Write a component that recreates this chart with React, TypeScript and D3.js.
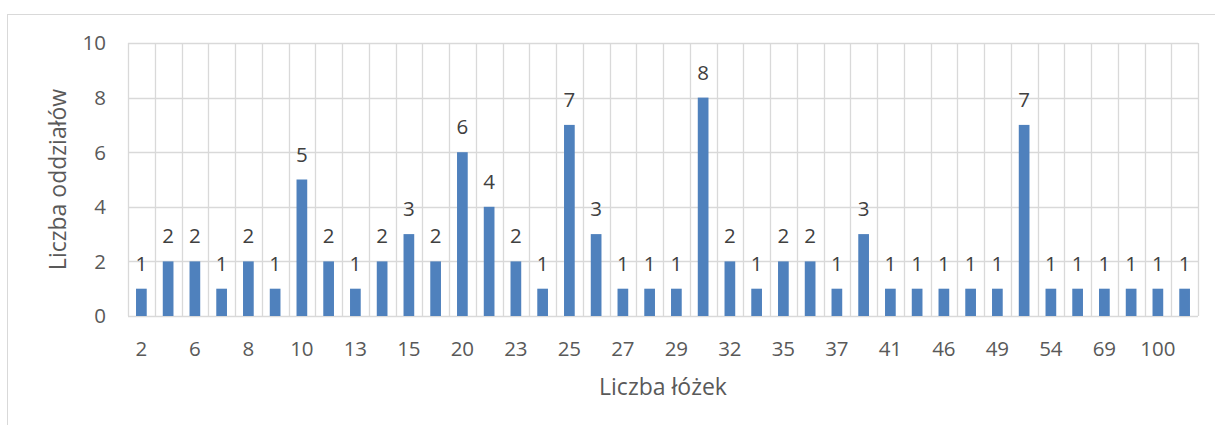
import React from "react";
import * as d3 from "d3";

const categories = [
  "2", "4", "6", "7", "8", "9", "10", "12", "13", "14",
  "15", "18", "20", "22", "23", "24", "25", "26", "27", "28",
  "29", "30", "32", "34", "35", "36", "37", "40", "41", "45",
  "46", "48", "49", "50", "54", "60", "69", "80", "100", "120",
];
const values = [
  1, 2, 2, 1, 2, 1, 5, 2, 1, 2,
  3, 2, 6, 4, 2, 1, 7, 3, 1, 1,
  1, 8, 2, 1, 2, 2, 1, 3, 1, 1,
  1, 1, 1, 7, 1, 1, 1, 1, 1, 1,
];
const yTicks = [0, 2, 4, 6, 8, 10];
const xTitle = "Liczba łóżek";
const yTitle = "Liczba oddziałów";

const W = 1215;
const H = 425;
const left = 128;
const right = 1198;
const top = 43;
const bottom = 316;
const FONT = "'Open Sans', sans-serif";
const TXT = "#595959";
const GRID = "#d9d9d9";
const BAR = "#4f81bd";
const FS = 20.5;
const FT = 23;

export default function App() {
  const x = d3
    .scaleBand<string>()
    .domain(categories)
    .range([left, right])
    .paddingInner(0.6)
    .paddingOuter(0.3);
  const y = d3.scaleLinear().domain([0, 10]).range([bottom, top]);
  const step = x.step();
  const bounds = d3.range(categories.length + 1).map((i) => left + i * step);

  return (
    <svg
      width={W}
      height={H}
      style={{ position: "absolute", left: 0, top: 0, background: "#fff" }}
      fontFamily={FONT}
    >
      <rect x={7.5} y={14.5} width={W + 20} height={H + 20} fill="#fff" stroke={GRID} strokeWidth={1} />
      {yTicks.map((t) => (
        <line key={"h" + t} x1={left} x2={right} y1={Math.round(y(t)) + 0.5} y2={Math.round(y(t)) + 0.5} stroke={GRID} strokeWidth={1.3} />
      ))}
      {bounds.map((b, i) => (
        <line key={"v" + i} x1={Math.round(b) + 0.5} x2={Math.round(b) + 0.5} y1={top} y2={bottom} stroke={GRID} strokeWidth={1.3} />
      ))}
      {categories.map((c, i) => (
        <rect key={"b" + i} x={x(c)} y={y(values[i])} width={x.bandwidth()} height={y(0) - y(values[i])} fill={BAR} />
      ))}
      {categories.map((c, i) => (
        <text key={"l" + i} x={x(c)! + x.bandwidth() / 2} y={y(values[i]) - 18} textAnchor="middle" fontSize={FS} fill="#404040">
          {values[i]}
        </text>
      ))}
      {yTicks.map((t) => (
        <text key={"yt" + t} x={106} y={y(t)} dy="0.36em" textAnchor="end" fontSize={FS} fill={TXT}>
          {t}
        </text>
      ))}
      {categories.map((c, i) =>
        i % 2 === 0 ? (
          <text key={"xt" + i} x={x(c)! + x.bandwidth() / 2} y={356} textAnchor="middle" fontSize={FS} fill={TXT}>
            {c}
          </text>
        ) : null
      )}
      <text x={(left + right) / 2} y={395} textAnchor="middle" fontSize={FT} fill={TXT}>
        {xTitle}
      </text>
      <text transform={`translate(66,${(top + bottom) / 2}) rotate(-90)`} textAnchor="middle" fontSize={FT} fill={TXT}>
        {yTitle}
      </text>
    </svg>
  );
}
